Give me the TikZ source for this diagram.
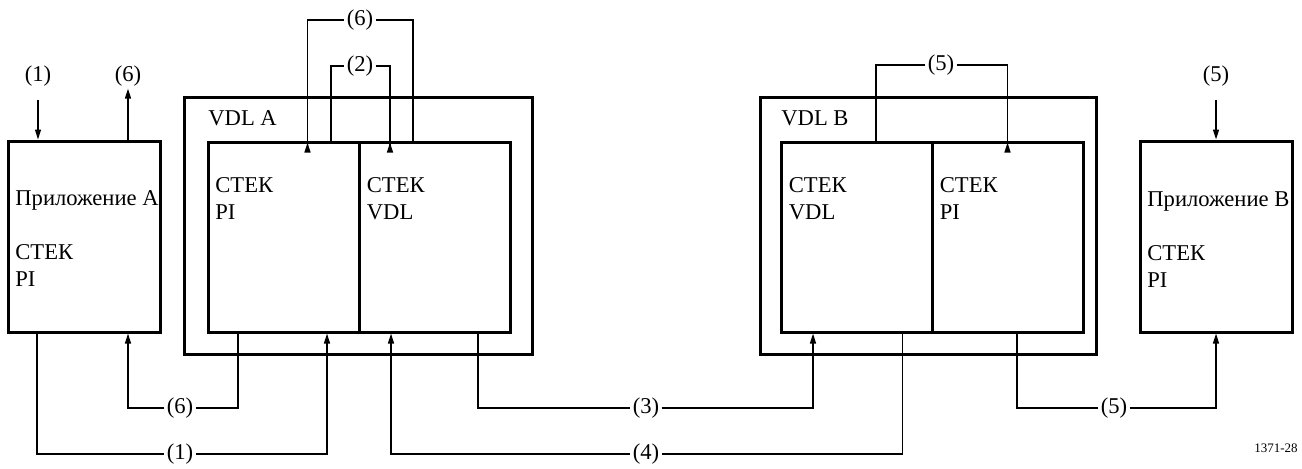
\documentclass[tikz,border=0pt]{standalone}
\usepackage{fontspec}
\setmainfont{Liberation Serif}
\usetikzlibrary{arrows.meta, calc}
\tikzset{
    box/.style={rectangle, draw=black, line width=1.5pt, inner sep=0pt},
    appbox/.style={box, minimum width=76pt, minimum height=95.5pt},
    stackbox/.style={box, minimum width=75.5pt, minimum height=95pt},
    outerbox/.style={box, minimum height=128.5pt},
    txt/.style={anchor=north west, inner sep=0pt, align=left,
        font=\fontsize{11.3}{13.5}\selectfont},
    lab/.style={inner sep=1pt, font=\fontsize{11.3}{13.5}\selectfont},
    conn/.style={line width=0.75pt},
    arrow/.style={conn, -{Triangle[length=5pt, width=3pt]}},
    uptip/.style={conn, -{Triangle[reversed, length=5pt, width=3pt]}},
}

\begin{document}
\begin{tikzpicture}[x=0.5pt, y=-0.5pt]
    \useasboundingbox (0,0) rectangle (1302,468);
    % boxes
    \node[appbox] (appA) at (84,236.5) {};
    \node[outerbox, minimum width=174pt] (vdlA) at (358,225.5) {};
    \node[stackbox] (piA) at (283.5,237) {};
    \node[stackbox] (stA) at (434.5,237) {};
    \node[outerbox, minimum width=168pt] (vdlB) at (928,225.5) {};
    \node[stackbox] (stB) at (856.5,237) {};
    \node[stackbox] (piB) at (1007.5,237) {};
    \node[appbox] (appB) at (1216,236.5) {};
    % texts
    \node[txt] (tappA) at ($(appA.north west)+(8.5,50.5)$) {Приложение A\\[13.5pt]СТЕК\\PI};
    \node[txt] (tvdlA) at ($(vdlA.north west)+(25.5,14.5)$) {VDL A};
    \node[txt] (tpiA) at ($(piA.north west)+(8.5,36.5)$) {СТЕК\\PI};
    \node[txt] (tstA) at ($(stA.north west)+(9,36.5)$) {СТЕК\\VDL};
    \node[txt] (tvdlB) at ($(vdlB.north west)+(22.5,14.5)$) {VDL B};
    \node[txt] (tstB) at ($(stB.north west)+(9,36.5)$) {СТЕК\\VDL};
    \node[txt] (tpiB) at ($(piB.north west)+(9,36.5)$) {СТЕК\\PI};
    \node[txt] (tappB) at ($(appB.north west)+(8.5,51.5)$) {Приложение B\\[13.5pt]СТЕК\\PI};
    % connector labels
    \node[lab] (inA) at (38,76) {(1)};
    \node[lab] (outA) at (128,76) {(6)};
    \node[lab] (inB) at (1216,76) {(5)};
    \node[lab] (topA6) at (360,20) {(6)};
    \node[lab] (topA2) at (360,66) {(2)};
    \node[lab] (topB5) at (941,65) {(5)};
    \node[lab] (bot6) at (180,408) {(6)};
    \node[lab] (bot1) at (180,454) {(1)};
    \node[lab] (bot3) at (646,408) {(3)};
    \node[lab] (bot4) at (646,454) {(4)};
    \node[lab] (bot5) at (1114,408) {(5)};
    \node[inner sep=0pt, font=\fontsize{6.5}{8}\selectfont] (figno) at (1276,448) {1371-28};
    % top connectors
    \draw[arrow] ([yshift=-5.5pt]inA.south) -- (appA.north -| inA);
    \draw[arrow] (appA.north -| outA) -- (outA.south);
    \draw[arrow] ([yshift=-5.5pt]inB.south) -- (appB.north -| inB);
    \draw[conn] ($(stA.north)+(-21.5,0)$) |- (topA6.east);
    \draw[uptip] (topA6.west) -| ($(piA.north)+(24,12)$);
    \draw[conn] ($(piA.north)+(47.5,0)$) |- (topA2.west);
    \draw[uptip] (topA2.east) -| ($(stA.north)+(-44.5,12)$);
    \draw[conn] ($(stB.north)+(19.5,0)$) |- (topB5.west);
    \draw[uptip] (topB5.east) -| ($(piB.north)+(0,12)$);
    % bottom connectors
    \draw[conn] ($(piA.south)+(-45.5,0)$) |- (bot6.east);
    \draw[arrow] (bot6.west) -| ($(appA.south)+(44,0)$);
    \draw[conn] ($(appA.south)+(-47,0)$) |- (bot1.west);
    \draw[arrow] (bot1.east) -| ($(piA.south)+(43.5,0)$);
    \draw[conn] ($(stA.south)+(43.5,0)$) |- (bot3.west);
    \draw[arrow] (bot3.east) -| ($(stB.south)+(-43.5,0)$);
    \draw[conn] ($(stB.south)+(46,0)$) |- (bot4.east);
    \draw[arrow] (bot4.west) -| ($(stA.south)+(-43.5,0)$);
    \draw[conn] ($(piB.south)+(9.5,0)$) |- (bot5.west);
    \draw[arrow] (bot5.east) -| (appB.south);
\end{tikzpicture}
\end{document}
